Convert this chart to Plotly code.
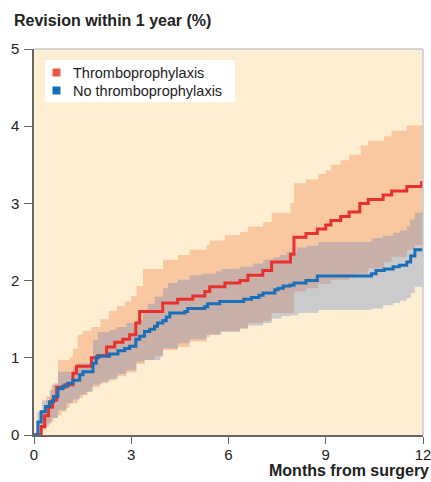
import plotly.graph_objects as go

# ---------------- data (months, cumulative revision %) ----------------
red_m = [0, 0.22, 0.33, 0.45, 0.57, 0.70, 0.95, 1.20, 1.31, 1.77, 1.97, 2.24, 2.49, 2.74, 2.95,
         3.14, 3.26, 3.97, 4.43, 4.90, 5.27, 5.42, 5.89, 6.35, 6.60, 7.06, 7.33, 7.91, 8.02,
         8.39, 8.74, 9.00, 9.16, 9.46, 9.72, 10.05, 10.31, 10.77, 11.03, 11.50, 11.96, 12]
red_v = [0, 0.11, 0.25, 0.36, 0.45, 0.62, 0.65, 0.80, 0.89, 1.00, 1.03, 1.14, 1.20, 1.24, 1.30,
         1.45, 1.60, 1.71, 1.76, 1.80, 1.86, 1.92, 1.97, 2.00, 2.07, 2.13, 2.24, 2.34, 2.56,
         2.61, 2.67, 2.72, 2.78, 2.83, 2.89, 3.00, 3.05, 3.11, 3.16, 3.22, 3.27, 3.27]

blue_m = [0, 0.12, 0.22, 0.35, 0.48, 0.60, 0.74, 0.89, 1.04, 1.20, 1.41, 1.51, 1.82, 1.92, 2.00,
          2.33, 2.59, 2.80, 2.95, 3.14, 3.26, 3.41, 3.57, 3.72, 3.81, 3.97, 4.08, 4.19, 4.65,
          4.74, 5.27, 5.36, 5.73, 6.47, 6.71, 6.94, 7.07, 7.43, 7.53, 7.69, 7.90, 8.02, 8.39,
          8.74, 10.41, 10.55, 10.80, 11.08, 11.27, 11.50, 11.62, 11.75, 12]
blue_v = [0, 0.17, 0.30, 0.37, 0.43, 0.50, 0.60, 0.63, 0.67, 0.71, 0.78, 0.82, 0.93, 1.01, 1.02,
          1.05, 1.09, 1.12, 1.15, 1.24, 1.28, 1.34, 1.37, 1.41, 1.45, 1.48, 1.53, 1.58, 1.60,
          1.64, 1.66, 1.70, 1.73, 1.76, 1.78, 1.81, 1.84, 1.88, 1.90, 1.93, 1.94, 1.97, 2.00,
          2.06, 2.09, 2.13, 2.15, 2.18, 2.20, 2.24, 2.32, 2.40, 2.40]

# thromboprophylaxis 95% CI
red_up_m = [0, 0.22, 0.37, 0.53, 0.74, 1.10, 1.20, 1.35, 1.50, 1.77, 2.05, 2.31, 2.56, 2.80, 3.00,
            3.16, 3.36, 3.98, 4.44, 4.80, 5.32, 5.42, 5.89, 6.35, 6.60, 7.07, 7.33, 7.91, 8.02,
            8.39, 8.77, 9.00, 9.16, 9.46, 9.72, 10.08, 10.31, 10.80, 11.03, 11.50, 12]
red_up_v = [0.02, 0.28, 0.50, 0.65, 0.97, 1.01, 1.12, 1.30, 1.35, 1.40, 1.50, 1.61, 1.67, 1.73, 1.80,
            1.93, 2.15, 2.27, 2.33, 2.40, 2.46, 2.52, 2.59, 2.63, 2.70, 2.76, 2.88, 3.01, 3.26,
            3.31, 3.38, 3.43, 3.50, 3.56, 3.63, 3.75, 3.81, 3.87, 3.94, 4.01, 4.01]
red_lo_m = [0, 0.27, 0.38, 0.48, 0.60, 0.74, 0.84, 1.00, 1.10, 1.35, 1.51, 1.66, 1.77, 2.02, 2.28,
            2.54, 2.85, 3.16, 3.41, 3.72, 3.98, 4.44, 4.80, 5.32, 5.42, 5.73, 6.35, 6.60, 7.07,
            7.33, 8.02, 8.39, 8.77, 9.16, 9.72, 9.97, 10.31, 10.80, 11.03, 11.50, 11.75, 12]
red_lo_v = [0, 0.06, 0.11, 0.17, 0.22, 0.26, 0.30, 0.35, 0.41, 0.48, 0.52, 0.56, 0.62, 0.67, 0.71,
            0.76, 0.81, 0.92, 0.97, 1.02, 1.10, 1.14, 1.21, 1.27, 1.30, 1.34, 1.38, 1.45, 1.48,
            1.58, 1.86, 1.90, 1.96, 2.01, 2.05, 2.09, 2.16, 2.24, 2.31, 2.40, 2.46, 2.46]

# no thromboprophylaxis 95% CI
blue_up_m = [0, 0.10, 0.25, 0.48, 0.60, 0.74, 1.20, 1.35, 1.72, 1.82, 1.97, 2.33, 2.54, 2.85, 3.16,
             3.36, 3.51, 3.72, 3.98, 4.14, 4.44, 4.80, 5.16, 5.62, 5.78, 6.35, 6.76, 7.07, 7.38,
             7.58, 7.80, 8.10, 8.41, 8.77, 10.41, 10.77, 11.08, 11.29, 11.50, 11.60, 11.75, 12]
blue_up_v = [0.03, 0.30, 0.45, 0.58, 0.67, 0.82, 0.88, 0.93, 1.00, 1.23, 1.33, 1.36, 1.40, 1.45, 1.49,
             1.62, 1.70, 1.79, 1.90, 1.97, 2.01, 2.07, 2.09, 2.12, 2.15, 2.18, 2.22, 2.27, 2.30,
             2.33, 2.37, 2.43, 2.45, 2.50, 2.55, 2.58, 2.62, 2.65, 2.70, 2.79, 2.88, 2.88]
blue_lo_m = [0, 0.27, 0.40, 0.53, 0.74, 1.00, 1.20, 1.41, 1.60, 1.82, 2.08, 2.33, 2.59, 2.85, 3.16,
             3.41, 3.90, 3.98, 4.44, 4.80, 5.32, 5.78, 6.35, 6.60, 7.07, 7.33, 7.64, 7.91, 8.15,
             8.77, 10.41, 10.77, 11.08, 11.29, 11.50, 11.63, 11.75, 12]
blue_lo_v = [0, 0.08, 0.15, 0.22, 0.32, 0.41, 0.46, 0.52, 0.56, 0.65, 0.69, 0.73, 0.79, 0.84, 0.95,
             0.97, 1.02, 1.12, 1.19, 1.24, 1.30, 1.34, 1.38, 1.42, 1.45, 1.51, 1.54, 1.55, 1.58,
             1.62, 1.64, 1.68, 1.71, 1.74, 1.77, 1.84, 1.92, 1.92]

x_ticks = [0, 3, 6, 9, 12]
y_ticks = [0, 1, 2, 3, 4, 5]
series_names = ["Thromboprophylaxis", "No thromboprophylaxis"]

# ---------------- styling ----------------
W, H = 431, 482
ML, MR, MT, MB = 34, 8, 49, 47
PW, PH = W - ML - MR, H - MT - MB

def px_x(px):
    return (px - ML) / PW

def px_y(py):
    return (H - MB - py) / PH

BG = "#FEEFD3"
PEACH = "#F9C8A0"
GREY_T = "rgba(80,118,188,0.29)"
RED = "#E8302E"
BLUE = "#1A6FB8"
LEG_COLORS = ["#EF5A45", "#1470BE"]
FONT = "Liberation Sans, Arial, sans-serif"
TXT = "#222"

fig = go.Figure()

# orange band (thromboprophylaxis CI)
fig.add_trace(go.Scatter(x=red_lo_m, y=red_lo_v, mode="lines", line=dict(width=0, shape="hv"),
                         showlegend=False, hoverinfo="skip"))
fig.add_trace(go.Scatter(x=red_up_m, y=red_up_v, mode="lines", line=dict(width=0, shape="hv"),
                         fill="tonexty", fillcolor=PEACH, showlegend=False, hoverinfo="skip"))
# grey band (no thromboprophylaxis CI)
fig.add_trace(go.Scatter(x=blue_lo_m, y=blue_lo_v, mode="lines", line=dict(width=0, shape="hv"),
                         showlegend=False, hoverinfo="skip"))
fig.add_trace(go.Scatter(x=blue_up_m, y=blue_up_v, mode="lines", line=dict(width=0, shape="hv"),
                         fill="tonexty", fillcolor=GREY_T, showlegend=False, hoverinfo="skip"))

# estimate lines
fig.add_trace(go.Scatter(x=red_m, y=red_v, mode="lines", line=dict(color=RED, width=3, shape="hv"),
                         showlegend=False, name=series_names[0]))
fig.add_trace(go.Scatter(x=blue_m, y=blue_v, mode="lines", line=dict(color=BLUE, width=3, shape="hv"),
                         showlegend=False, name=series_names[1]))

# legend (drawn as box + squares + text)
shapes = [
    dict(type="rect", xref="paper", yref="paper", x0=px_x(45), x1=px_x(235),
         y0=px_y(102), y1=px_y(60), fillcolor="white", line=dict(width=0), layer="below"),
    dict(type="line", xref="paper", yref="paper", x0=0, x1=1, y0=1, y1=1,
         line=dict(color="#C8C8C8", width=1.5)),
    dict(type="line", xref="paper", yref="paper", x0=1, x1=1, y0=0, y1=1,
         line=dict(color="#C8C8C8", width=1.5)),
]
annotations = []
row_y = [72.5, 90.5]
for name, col, ry in zip(series_names, LEG_COLORS, row_y):
    shapes.append(dict(type="rect", xref="paper", yref="paper",
                       x0=px_x(52.5), x1=px_x(60.5), y0=px_y(ry + 4), y1=px_y(ry - 4),
                       fillcolor=col, line=dict(width=0), layer="above"))
    annotations.append(dict(text=name, xref="paper", yref="paper", x=px_x(70.5), y=px_y(ry),
                            xanchor="left", yanchor="middle", showarrow=False,
                            font=dict(size=14.5, color=TXT, family=FONT)))

annotations.append(dict(text="<b>Revision within 1 year (%)</b>", xref="paper", yref="paper",
                        x=px_x(11.5), y=px_y(21), xanchor="left", yanchor="middle", showarrow=False,
                        font=dict(size=16, color=TXT, family=FONT)))
annotations.append(dict(text="<b>Months from surgery</b>", xref="paper", yref="paper",
                        x=px_x(431), y=px_y(470), xanchor="right", yanchor="middle", showarrow=False,
                        font=dict(size=16, color=TXT, family=FONT)))

fig.update_layout(
    width=W, height=H,
    margin=dict(l=ML, r=MR, t=MT, b=MB, autoexpand=False),
    paper_bgcolor="white", plot_bgcolor=BG,
    font=dict(family=FONT, size=15, color=TXT),
    showlegend=False,
    xaxis=dict(range=[0, 12], tickvals=x_ticks, ticks="outside", ticklen=7, tickcolor="#666",
               tickwidth=1.2, showline=True, linecolor="#666", linewidth=1.5, showgrid=False,
               zeroline=False, automargin=False, ticklabelstandoff=-2,
               ticklabeloverflow="allow", tickfont=dict(size=15, color=TXT)),
    yaxis=dict(range=[0, 5], tickvals=y_ticks, ticks="outside", ticklen=8, tickcolor="#666",
               tickwidth=1.2, showline=True, linecolor="#666", linewidth=1.5, showgrid=False,
               zeroline=False, automargin=False, ticklabelstandoff=2,
               ticklabeloverflow="allow", tickfont=dict(size=15, color=TXT)),
    shapes=shapes,
    annotations=annotations,
)

# remove the browser's default page margin so the figure sits at the window's top-left
fig.write_html("out.html", config={"displayModeBar": False},
               post_script="document.body.style.margin='0px';document.body.style.overflow='hidden';")
